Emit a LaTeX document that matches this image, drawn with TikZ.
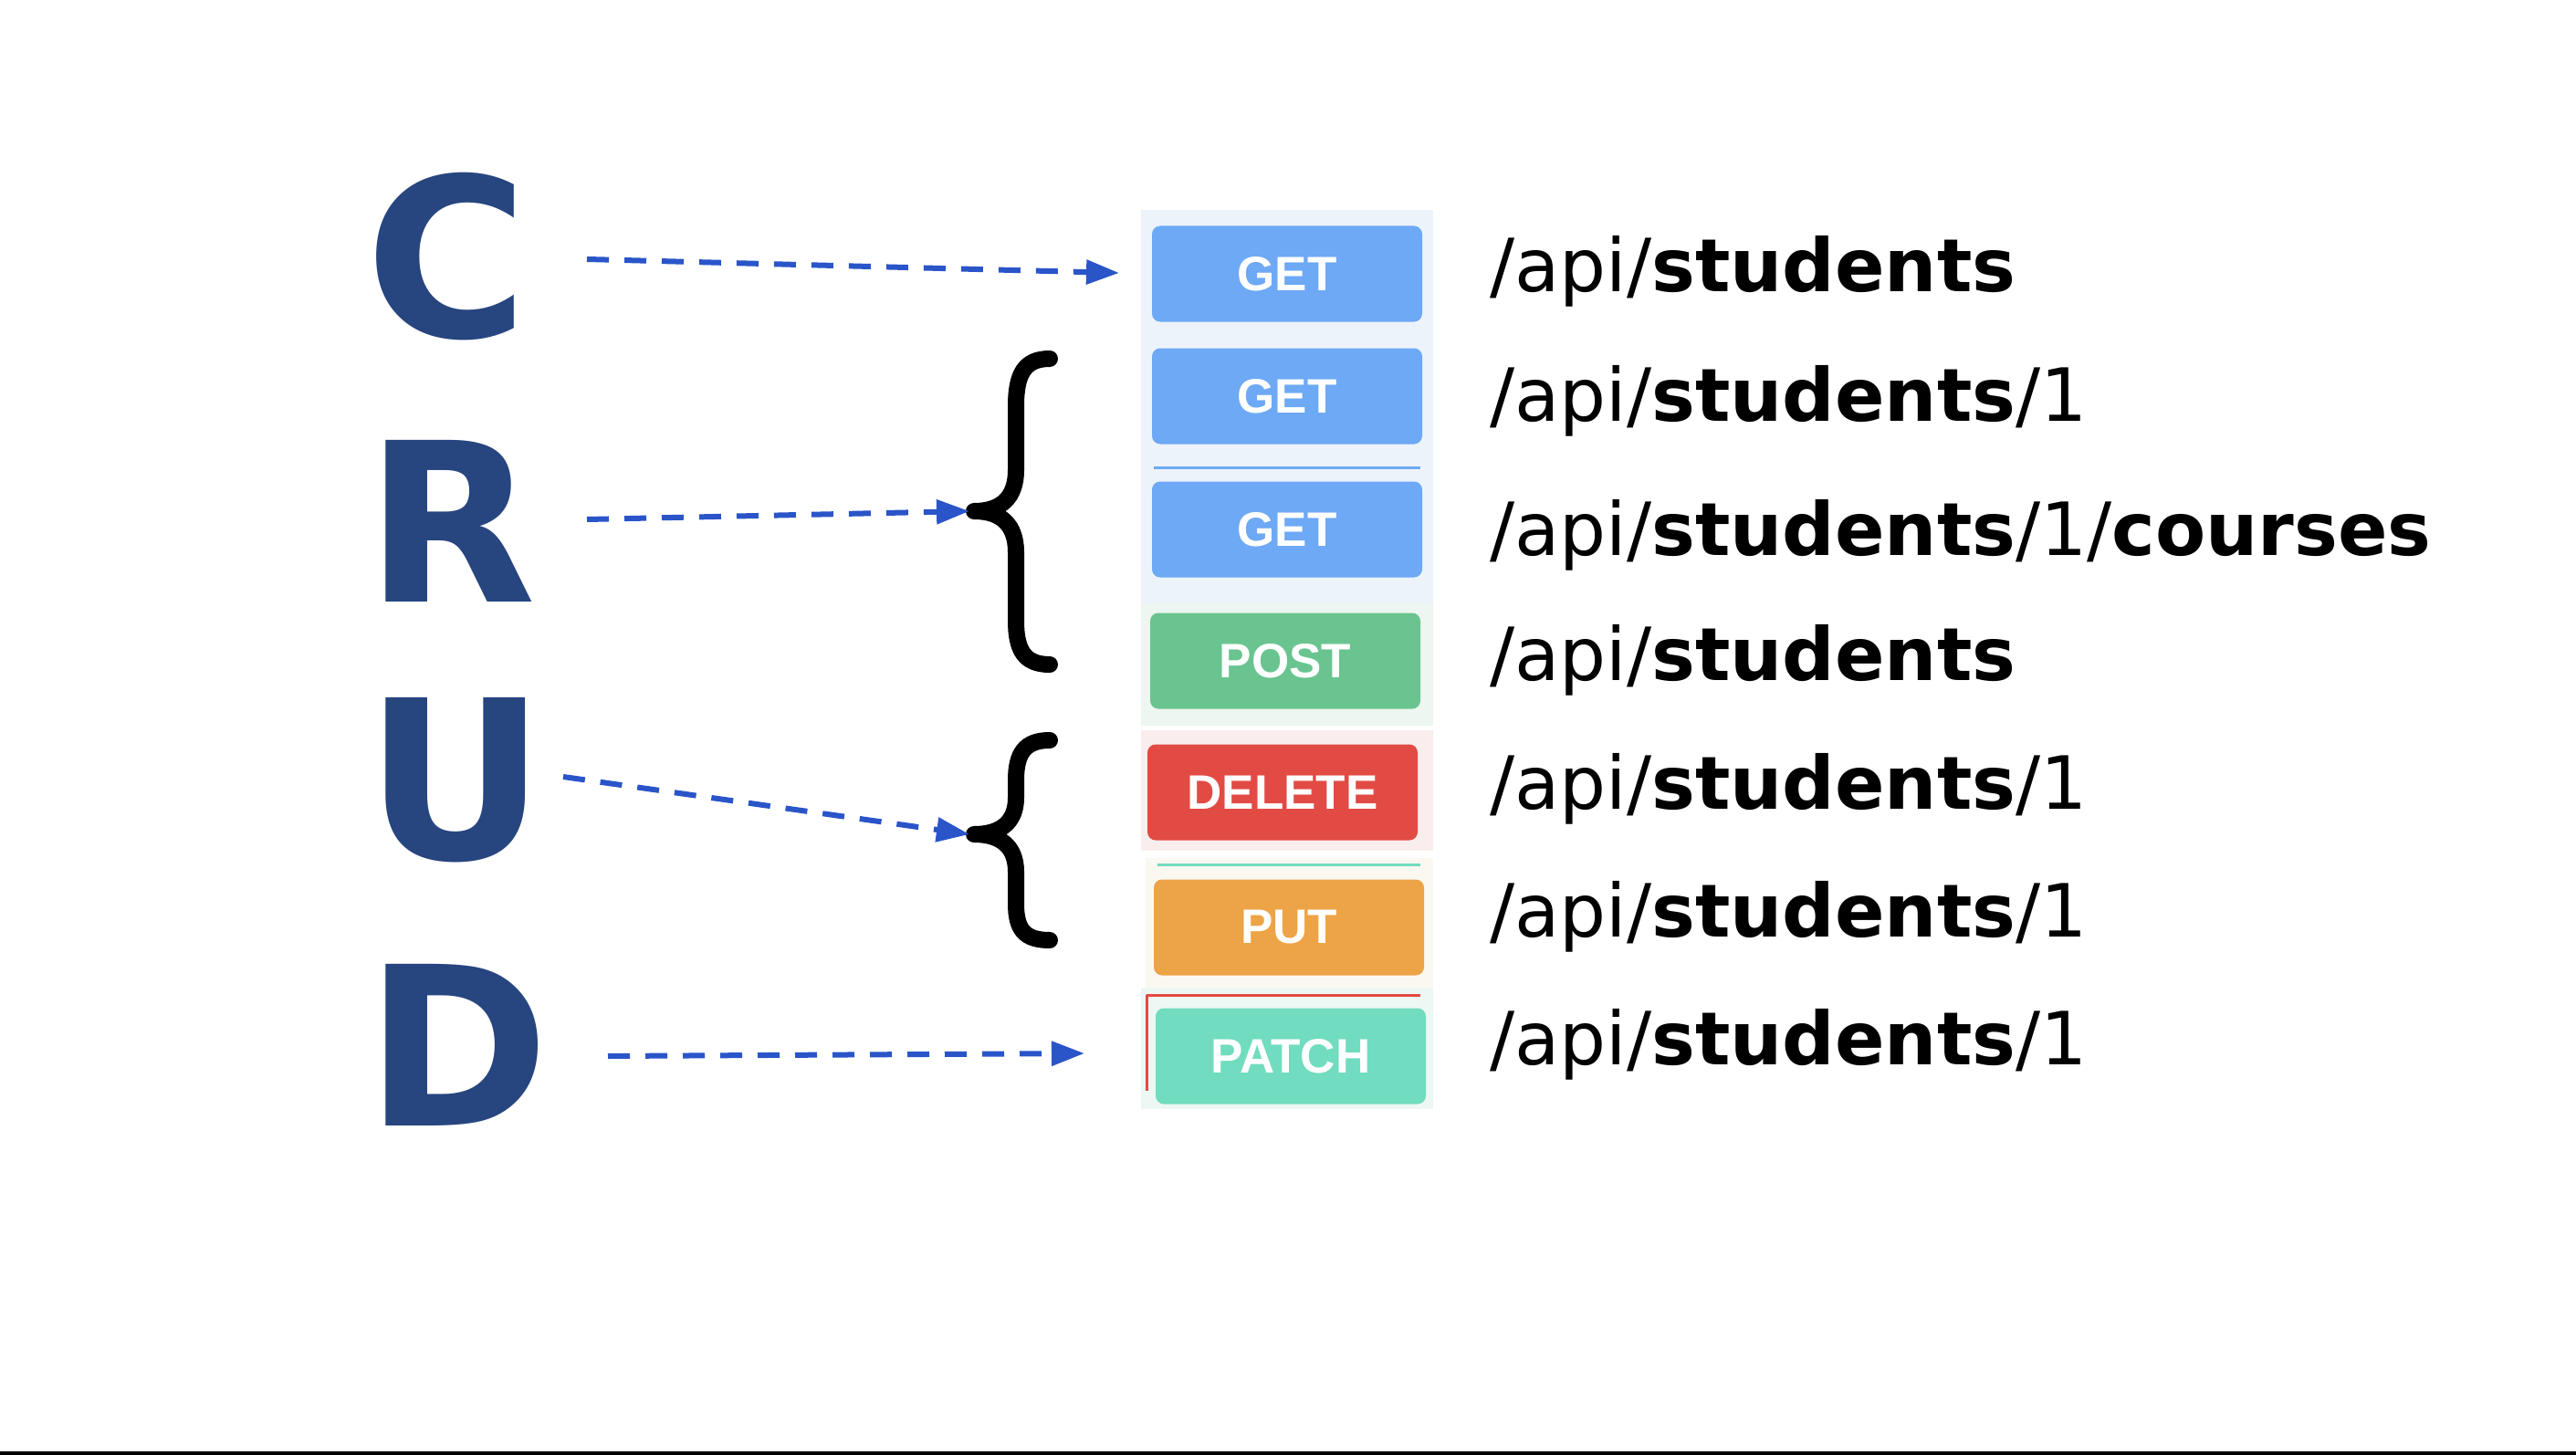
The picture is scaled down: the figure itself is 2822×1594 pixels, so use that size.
\documentclass[tikz,border=0pt]{standalone}
\usepackage{fontspec}
\setmainfont{DejaVu Sans}
\newfontfamily\btnfont{Liberation Sans}
\usetikzlibrary{arrows.meta}
\definecolor{crud}{HTML}{27457F}
\definecolor{arrblue}{HTML}{2A55C9}
\definecolor{getc}{HTML}{6DA9F4}
\definecolor{postc}{HTML}{69C48F}
\definecolor{delc}{HTML}{E24B44}
\definecolor{putc}{HTML}{EDA446}
\definecolor{patchc}{HTML}{71DCBF}
\definecolor{pget}{HTML}{EDF3FA}
\definecolor{ppost}{HTML}{EDF6F0}
\definecolor{pdel}{HTML}{F9EDED}
\definecolor{pput}{HTML}{FBF8F2}
\definecolor{ppatch}{HTML}{EDF7F3}
\definecolor{baseline}{HTML}{333333}
\begin{document}
\begin{tikzpicture}[x=0.5pt,y=-0.5pt,
  letter/.style={anchor=base west,inner sep=0pt,text=crud,font=\fontsize{121.5}{125}\selectfont\bfseries},
  url/.style={anchor=base west,inner sep=0pt,font=\fontsize{40.2}{48}\selectfont},
  btn/.style={rounded corners=4.5pt,minimum width=148pt,minimum height=52.5pt,inner sep=0pt,text=white,font=\btnfont\fontsize{26.5}{28}\selectfont\bfseries},
  arr/.style={draw=arrblue,line width=3pt,dash pattern=on 12pt off 8.5pt,-{Triangle[length=18pt,width=13pt]}},
  bracestroke/.style={line width=9pt,line cap=round,line join=round},
  artifact/.style={line width=1.5pt}
]
\useasboundingbox (0,0) rectangle (2822,1594);
\fill[white] (0,0) rectangle (2822,1594);
\fill[baseline] (0,1590) rectangle (2822,1594);

% panels behind buttons
\fill[pget] (1250,230) rectangle (1570,660);
\fill[ppost] (1250,660) rectangle (1570,795);
\fill[pdel] (1250,800) rectangle (1570,932);
\fill[pput] (1255,940) rectangle (1570,1082);
\fill[ppatch] (1250,1082) rectangle (1570,1215);

% buttons
\node[btn,fill=getc] (get1) at (1410,300) {GET};
\node[btn,fill=getc] (get2) at (1410,434) {GET};
\node[btn,fill=getc] (get3) at (1410,580) {GET};
\node[btn,fill=postc] (post) at (1408,724) {POST};
\node[btn,fill=delc] (del) at (1405,868) {DELETE};
\node[btn,fill=putc] (put) at (1412,1016) {PUT};
\node[btn,fill=patchc] (patch) at (1414,1157) {PATCH};

% screenshot edge artifacts
\draw[artifact,getc] (1264,512) -- (1556,512);
\draw[artifact,patchc] (1268,947) -- (1556,947);
\draw[artifact,delc] (1256,1090) -- (1556,1090);
\draw[artifact,delc] (1256,1090) -- (1256,1195);

% letters
\node[letter] (C) at (400,370) {C};
\node[letter] (R) at (400,659) {R};
\node[letter] (U) at (400,941) {U};
\node[letter] (D) at (400,1233) {D};

% urls
\node[url] (u1) at (1632,320) {/api/\textbf{students}};
\node[url] (u2) at (1632,461) {/api/\textbf{students}/1};
\node[url] (u3) at (1632,608) {/api/\textbf{students}/1/\textbf{courses}};
\node[url] (u4) at (1632,745) {/api/\textbf{students}};
\node[url] (u5) at (1632,886) {/api/\textbf{students}/1};
\node[url] (u6) at (1632,1026) {/api/\textbf{students}/1};
\node[url] (u7) at (1632,1166) {/api/\textbf{students}/1};

% braces
\coordinate (b1tip) at (1067,560);
\coordinate (b2tip) at (1067,914);
\draw[bracestroke] (1150,393) .. controls (1122,393) and (1113,410) .. (1113,445)
  -- (1113,515) .. controls (1113,545) and (1097,560) .. (b1tip)
  .. controls (1097,560) and (1113,575) .. (1113,605)
  -- (1113,680) .. controls (1113,712) and (1122,728) .. (1150,728);
\draw[bracestroke] (1150,811) .. controls (1122,811) and (1113,826) .. (1113,855)
  -- (1113,874) .. controls (1113,900) and (1097,914) .. (b2tip)
  .. controls (1097,914) and (1113,928) .. (1113,955)
  -- (1113,990) .. controls (1113,1018) and (1122,1030) .. (1150,1030);

% arrows
\coordinate (cS) at (643,284);
\coordinate (cE) at (1226,299);
\coordinate (rS) at (643,569);
\coordinate (rE) at (1062,560);
\coordinate (uS) at (617,851);
\coordinate (uE) at (1062,914);
\coordinate (dS) at (666,1157);
\coordinate (dE) at (1188,1154);
\draw[arr] (cS) -- (cE);
\draw[arr] (rS) -- (rE);
\draw[arr] (uS) -- (uE);
\draw[arr] (dS) -- (dE);
\end{tikzpicture}
\end{document}
